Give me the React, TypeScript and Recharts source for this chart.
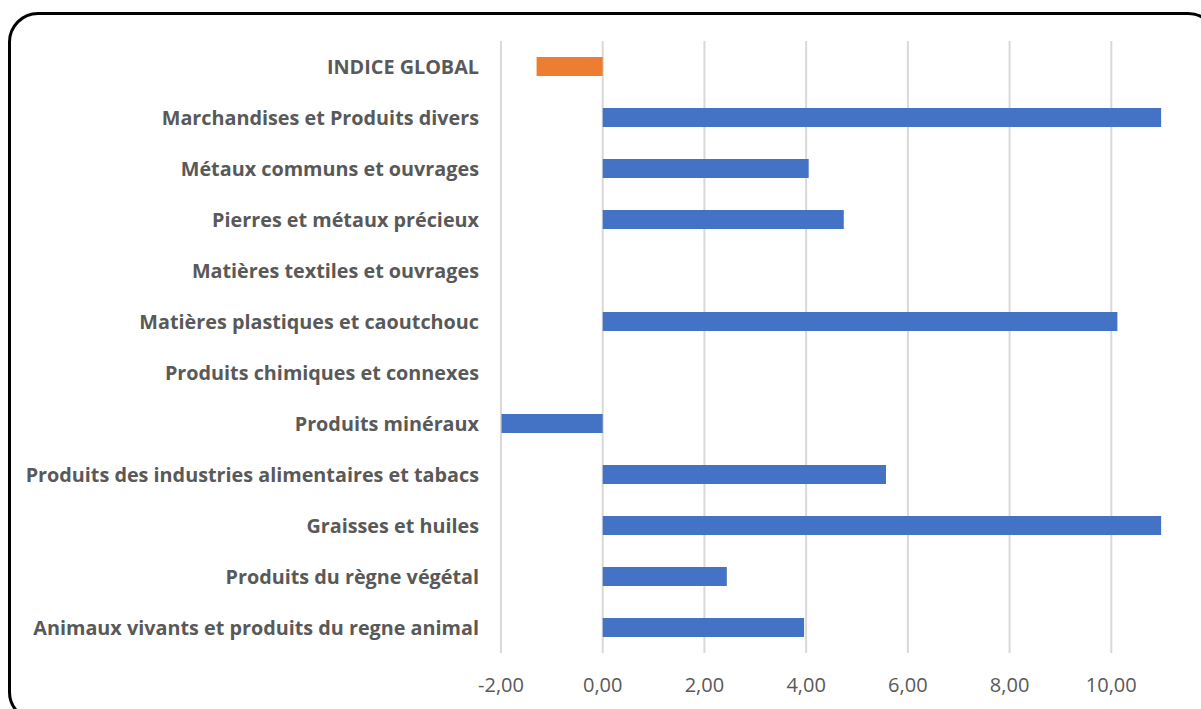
import { BarChart, Bar, XAxis, YAxis, CartesianGrid, Cell } from 'recharts'

const CATEGORIES = [
  'INDICE GLOBAL',
  'Marchandises et Produits divers',
  'Métaux communs et ouvrages',
  'Pierres et métaux précieux',
  'Matières textiles et ouvrages',
  'Matières plastiques et caoutchouc',
  'Produits chimiques et connexes',
  'Produits minéraux',
  'Produits des industries alimentaires et tabacs',
  'Graisses et huiles',
  'Produits du règne végétal',
  'Animaux vivants et produits du regne animal',
]

const VALUES = [-1.3, 10.98, 4.05, 4.74, 0, 10.12, 0, -1.99, 5.57, 10.98, 2.44, 3.96]

const X_TICKS = [-2, 0, 2, 4, 6, 8, 10]

const DATA = CATEGORIES.map((name, i) => ({ name, value: VALUES[i] }))

const FONT = '"Open Sans", Lato, sans-serif'
const fmt = (v: number) => v.toFixed(2).replace('.', ',')

export default function App() {
  return (
    <div
      style={{
        position: 'absolute',
        left: 0,
        top: 0,
        width: 1201,
        height: 709,
        overflow: 'hidden',
        background: '#fff',
        fontFamily: FONT,
      }}
    >
      <div
        style={{
          position: 'absolute',
          left: 8,
          top: 12,
          width: 1210,
          height: 710,
          border: '3px solid #000',
          borderRadius: 30,
          boxSizing: 'border-box',
        }}
      />
      <div style={{ position: 'absolute', left: 0, top: 1 }}>
        <BarChart
          width={1260}
          height={709}
          data={DATA}
          layout="vertical"
          margin={{ top: 40, right: 47, left: 0, bottom: 27 }}
          barSize={19}
        >
          <CartesianGrid horizontal={false} stroke="#D9D9D9" strokeWidth={2} />
          <XAxis
            type="number"
            domain={[-2, 12]}
            ticks={X_TICKS}
            tickFormatter={fmt}
            axisLine={false}
            tickLine={false}
            tickMargin={19}
            height={30}
            tick={{ fontSize: 20, fill: '#595959', fontFamily: FONT }}
          />
          <YAxis
            type="category"
            dataKey="name"
            width={501}
            axisLine={false}
            tickLine={false}
            tickMargin={16}
            interval={0}
            tick={{ fontSize: 19.8, fill: '#595959', fontWeight: 700, fontFamily: FONT }}
          />
          <Bar dataKey="value" isAnimationActive={false}>
            {DATA.map((d, i) => (
              <Cell key={d.name} fill={i === 0 ? '#ED7D31' : '#4472C4'} />
            ))}
          </Bar>
        </BarChart>
      </div>
    </div>
  )
}
